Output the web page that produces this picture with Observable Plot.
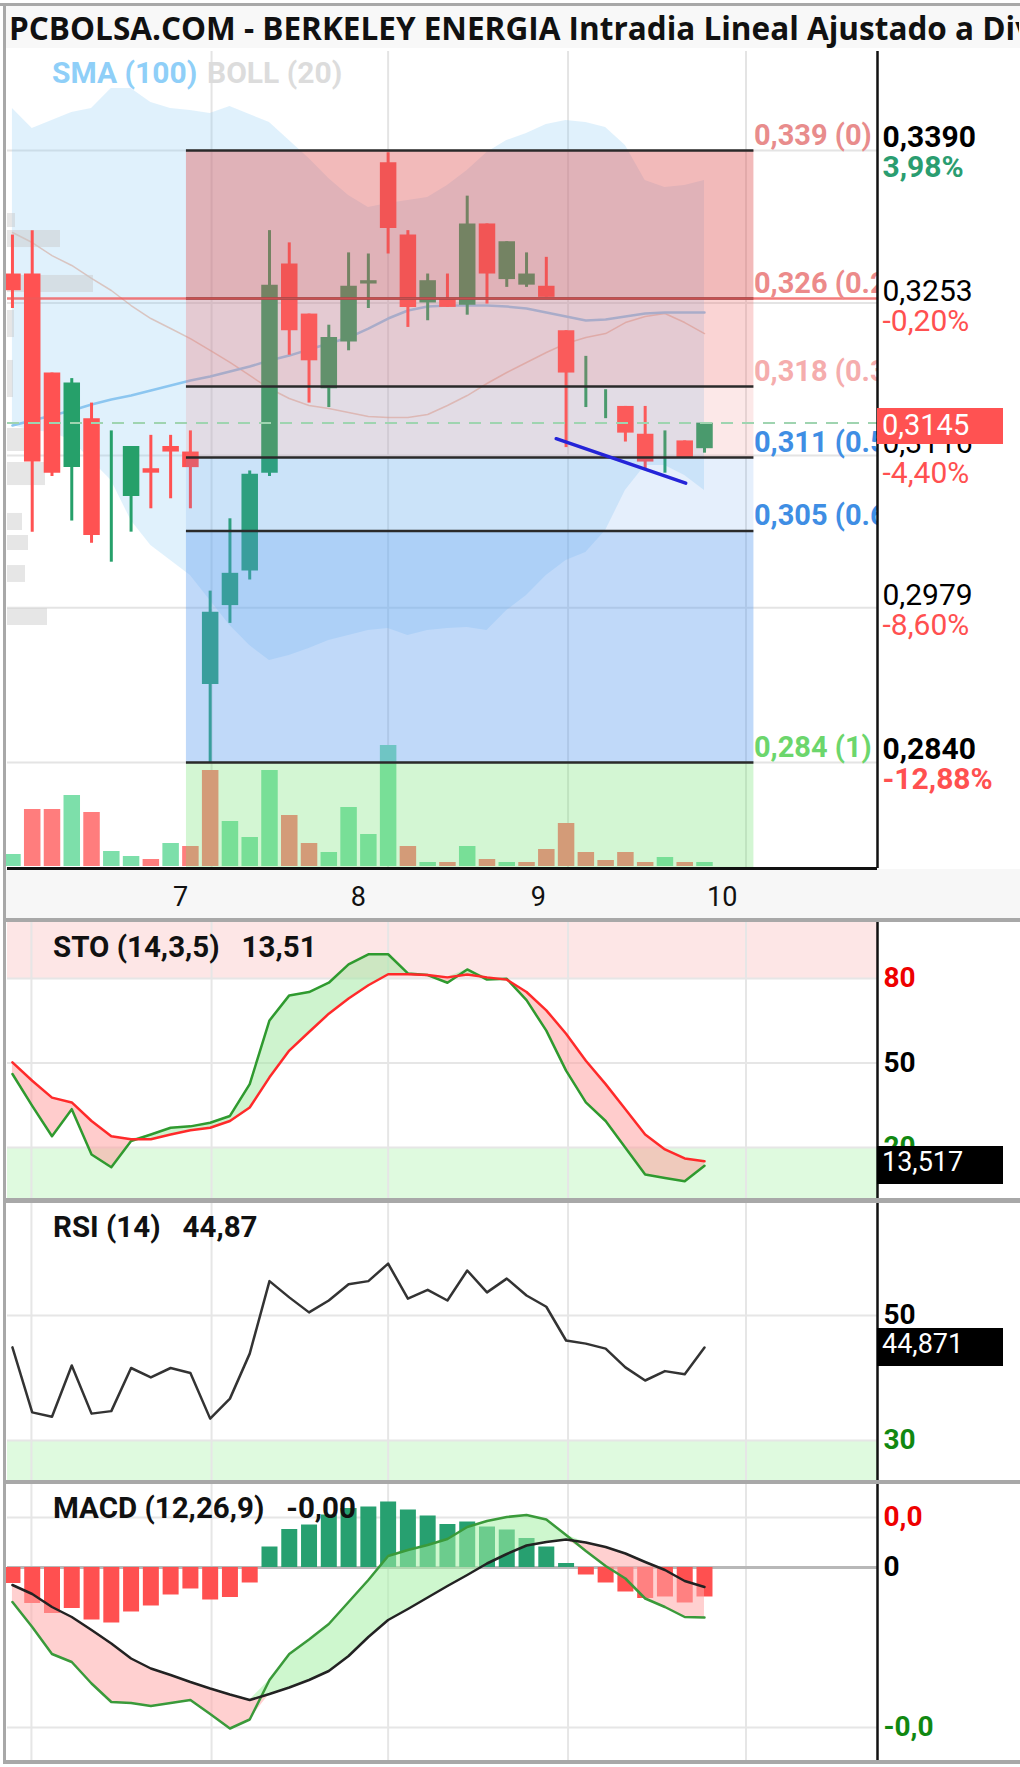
<!DOCTYPE html>
<html><head><meta charset="utf-8">
<script src="https://cdn.jsdelivr.net/npm/d3@7"></script>
<script src="https://cdn.jsdelivr.net/npm/@observablehq/plot@0.6"></script>
<style>
html,body{margin:0;padding:0;background:#fff;}
body{width:1020px;height:1767px;position:relative;overflow:hidden;font-family:Roboto,sans-serif;}
.abs{position:absolute;}
.ptitle{position:absolute;left:53px;font:bold 29.5px Roboto;line-height:28px;color:#111;white-space:pre;}
.vbox{position:absolute;left:877px;width:126px;height:38px;line-height:38px;color:#fff;font:27px Roboto;padding-left:5px;box-sizing:border-box;}
</style></head><body>
<script>
// ---------- DATA ----------
const opens  = [0.3279,0.3279,0.3190,0.3105,0.3149,0.3075,0.3079,0.3104,0.3124,0.3119,0.2910,0.2981,0.3012,0.3100,0.3288,0.3243,0.3176,0.3218,0.3270,0.3379,0.3314,0.3253,0.3257,0.3251,0.3324,0.3274,0.3269,0.3268,0.3228,0.3180,0.3160,0.3160,0.3135,0.3120,0.3129,0.3122];
const highs  = [0.3314,0.3318,0.3190,0.3185,0.3163,0.3138,0.3124,0.3134,0.3134,0.3138,0.2994,0.3059,0.3102,0.3318,0.3307,0.3243,0.3233,0.3298,0.3297,0.3388,0.3318,0.3279,0.3279,0.3349,0.3324,0.3308,0.3298,0.3294,0.3228,0.3205,0.3175,0.3160,0.3160,0.3138,0.3129,0.3145];
const lows   = [0.3248,0.3047,0.3097,0.3057,0.3037,0.3020,0.3047,0.3068,0.3077,0.3068,0.2840,0.2965,0.3004,0.3097,0.3206,0.3163,0.3159,0.3210,0.3248,0.3297,0.3231,0.3237,0.3249,0.3242,0.3252,0.3267,0.3267,0.3258,0.3123,0.3159,0.3149,0.3128,0.3104,0.3100,0.3114,0.3118];
const closes = [0.3264,0.3110,0.3100,0.3181,0.3044,0.3075,0.3124,0.3100,0.3119,0.3105,0.2975,0.3010,0.3099,0.3269,0.3228,0.3201,0.3222,0.3268,0.3273,0.3320,0.3249,0.3273,0.3249,0.3324,0.3279,0.3308,0.3279,0.3258,0.3190,0.3180,0.3160,0.3136,0.3110,0.3120,0.3114,0.3145];
const volumes = [12,57,57,71,54,15,10,7,23,20,96,45,29,96,51,23,14,59,32,121,20,4,4,20,7,4,4,17,43,14,6,14,4,9,4,4];
const volumeUp = [1,0,0,1,0,1,1,0,1,0,0,1,1,1,0,0,1,1,1,1,0,1,0,1,0,1,0,0,0,0,0,0,0,1,0,1];
const bollUpper = [0.34277,0.34098,0.34170,0.34242,0.34277,0.34457,0.34457,0.34331,0.34277,0.34260,0.34233,0.34295,0.34224,0.34152,0.33990,0.33828,0.33648,0.33496,0.33388,0.33424,0.33451,0.33478,0.33585,0.33720,0.33882,0.33990,0.34053,0.34134,0.34170,0.34152,0.34107,0.33945,0.33630,0.33567,0.33585,0.33630];
const bollLower = [0.31429,0.31384,0.31366,0.31294,0.31114,0.30934,0.30575,0.30350,0.30215,0.30081,0.29856,0.29631,0.29451,0.29317,0.29362,0.29425,0.29496,0.29541,0.29586,0.29604,0.29541,0.29586,0.29604,0.29613,0.29586,0.29766,0.29901,0.30081,0.30215,0.30287,0.30485,0.30844,0.31069,0.31069,0.30979,0.30844];
const bollMid = [0.33163,0.33073,0.32956,0.32867,0.32750,0.32642,0.32507,0.32390,0.32300,0.32210,0.32103,0.31995,0.31878,0.31761,0.31671,0.31608,0.31581,0.31545,0.31509,0.31500,0.31500,0.31527,0.31608,0.31698,0.31806,0.31905,0.31995,0.32085,0.32166,0.32219,0.32255,0.32354,0.32408,0.32435,0.32354,0.32255];
const sma100 = [0.31429,0.31474,0.31518,0.31563,0.31617,0.31662,0.31698,0.31743,0.31788,0.31833,0.31869,0.31914,0.31959,0.32013,0.32057,0.32112,0.32166,0.32219,0.32300,0.32390,0.32462,0.32498,0.32507,0.32507,0.32507,0.32498,0.32480,0.32444,0.32408,0.32372,0.32381,0.32408,0.32435,0.32444,0.32444,0.32444];
const vpHigh = [0.33334,0.33181,0.32777,0.32462,0.32013,0.31402,0.31096,0.30638,0.30440,0.30170,0.29784];
const vpLow  = [0.33208,0.33028,0.32624,0.32219,0.31680,0.31195,0.30889,0.30485,0.30305,0.30018,0.29631];
const vpSize = [8,53,86,7,6,22,38,15,21,18,40];
const fibLevels = [0.339,0.3257,0.3178,0.3114,0.3048,0.284];
const fibLabels = ["0,339 (0)","0,326 (0.236)","0,318 (0.382)","0,311 (0.5)","0,305 (0.618)","0,284 (1)"];
const fibStart = 8.8, fibEnd = 37.5;
const refPrice = 0.3257, lastPrice = 0.3145;
const trendX = [27.5, 34.05], trendY = [0.3131, 0.3091];
const gridPrices = [0.339,0.3253,0.3116,0.2979,0.284];
const axisPriceText = ["0,3390","0,3253","0,3116","0,2979","0,2840"];
const axisPctText = ["3,98%","-0,20%","-4,40%","-8,60%","-12,88%"];
const dayGrid = [0.96,10.07,19.0,28.1,37.1];
const xTickPos = [8.5,17.5,26.6,35.9];
const xTickLabels = ["7","8","9","10"];
const stoK = [46.1,34.8,24.0,33.6,17.5,13.0,22.3,24.6,27.0,27.5,28.8,31.2,42.5,65.1,74.0,75.2,78.5,85.0,88.6,88.6,81.8,81.2,78.5,83.2,79.6,79.9,72.3,61.5,47.3,36.0,29.4,19.9,10.4,9.2,8.0,13.517];
const stoD = [50.2,43.7,37.7,36.0,29.4,24.0,22.9,22.9,24.6,26.1,27.0,29.4,34.2,44.9,54.4,61.0,67.5,72.9,77.6,81.5,81.5,81.2,80.4,81.4,80.4,79.6,75.2,68.7,60.4,50.8,42.5,33.6,24.6,19.3,16.1,15.1];
const stoLevels = [80,50,20];
const rsi = [44.9,34.5,33.8,42.0,34.3,34.7,41.6,40.1,41.6,40.8,33.5,36.7,43.9,55.5,52.9,50.5,52.4,55.0,55.5,58.3,52.7,54.1,52.4,57.2,53.7,55.9,53.2,51.4,46.0,45.5,44.7,41.7,39.6,41.1,40.6,44.871];
const rsiLevels = [50,30];
const macd = [-0.00069,-0.00119,-0.00173,-0.00189,-0.00232,-0.00269,-0.00271,-0.00277,-0.00271,-0.00265,-0.00293,-0.00322,-0.00304,-0.00225,-0.00173,-0.00144,-0.00113,-0.00069,-0.00025,0.00023,0.00035,0.00045,0.00057,0.00081,0.00093,0.00101,0.00105,0.00096,0.00065,0.00033,0.00003,-0.00022,-0.00062,-0.00079,-0.00099,-0.00100];
const signal = [-0.00035,-0.00053,-0.00079,-0.00099,-0.00125,-0.00152,-0.00182,-0.00202,-0.00215,-0.00229,-0.00242,-0.00254,-0.00265,-0.00253,-0.00240,-0.00225,-0.00207,-0.00177,-0.00139,-0.00105,-0.00083,-0.00060,-0.00037,-0.00015,0.00008,0.00027,0.00044,0.00051,0.00056,0.00050,0.00041,0.00028,0.00011,-0.00005,-0.00027,-0.00039];
const hist = [-0.00032,-0.00072,-0.00092,-0.00082,-0.00105,-0.00111,-0.00089,-0.00077,-0.00055,-0.00043,-0.00065,-0.00060,-0.00031,0.00041,0.00076,0.00085,0.00105,0.00118,0.00121,0.00131,0.00115,0.00103,0.00086,0.00091,0.00081,0.00075,0.00058,0.00041,0.00008,-0.00015,-0.00031,-0.00049,-0.00062,-0.00059,-0.00071,-0.00059];
const macdLevels = [0.001, 0, -0.0032];
const macdLevelText = ["0,0","0","-0,0"];

// ---------- LAYOUT ----------
const xDomain = [-0.25, 43.75];
const priceDomain = [0.27447, 0.34790];
const idx = closes.map((_, i) => i);
const F = "Roboto";
const RED = "#ff5252", GREEN = "#26a06a";

function div(style, text, cls) {
  const d = document.createElement("div");
  d.className = cls || "abs"; d.style.cssText = style;
  if (text != null) d.textContent = text;
  document.body.appendChild(d); return d;
}
function addPlot(top, opts) {
  const el = Plot.plot({width: 1020, marginLeft: 7, marginRight: 143, ...opts, style: {background: "transparent"}});
  el.style.position = "absolute"; el.style.left = "0px"; el.style.top = top + "px";
  document.body.appendChild(el);
  return el;
}

// backgrounds
div("left:6px;top:6px;width:1014px;height:42px;background:#f8f8f8;");
div("left:6px;top:869px;width:1014px;height:50px;background:#f7f7f7;");

const mainOpts = {height: 920, marginTop: 51, marginBottom: 52,
  x: {domain: xDomain, axis: null}, y: {domain: priceDomain, axis: null}};

// layer A1: grid, bollinger, sma
addPlot(0, {...mainOpts, marks: [
  Plot.ruleY(gridPrices, {stroke: "#e4e4e4", strokeWidth: 2}),
  Plot.ruleX(dayGrid.slice(1), {stroke: "#e4e4e4", strokeWidth: 2}),
  Plot.areaY(idx, {x: i => i, y1: i => bollLower[i], y2: i => bollUpper[i], fill: "#8ccdf5", fillOpacity: 0.27}),
  Plot.line(idx, {x: i => i, y: i => bollMid[i], stroke: "#d4a090", strokeOpacity: 0.55, strokeWidth: 1.5}),
  Plot.line(idx, {x: i => i, y: i => sma100[i], stroke: "#8cc6f0", strokeWidth: 2.5})
]});
// layer D: volume profile
addPlot(0, {height: 920, marginTop: 51, marginBottom: 52,
  x: {domain: [0, 100], range: [7, 107], axis: null}, y: {domain: priceDomain, axis: null},
  marks: [Plot.rect(vpSize.map((_, i) => i), {x1: 0, x2: i => vpSize[i], y1: i => vpLow[i], y2: i => vpHigh[i], fill: "#c8c8c8", fillOpacity: 0.45})]});
// layer A2: candles
const cColor = i => closes[i] >= opens[i] ? GREEN : RED;
addPlot(0, {...mainOpts, marks: [
  Plot.ruleX(idx, {x: i => i, y1: i => lows[i], y2: i => highs[i], stroke: cColor, strokeWidth: 3}),
  Plot.ruleX(idx, {x: i => i, y1: i => opens[i], y2: i => closes[i], stroke: cColor, strokeWidth: 16.5})
]});
// layer B: volume
addPlot(0, {height: 920, marginTop: 51, marginBottom: 52,
  x: {domain: xDomain, axis: null}, y: {domain: [0, 121], range: [866, 745], axis: null},
  marks: [Plot.ruleX(idx, {x: i => i, y1: 0, y2: i => volumes[i], stroke: i => volumeUp[i] ? "#7ddfaa" : "#ff7d7d", strokeWidth: 16.5})]});
// layer C: fibonacci, lines, labels
const zoneFill = ["#e05a5a", "#f07070", "#f08080", "#5b9bec", "#5a9cf0", "#6ee06e"];
const zoneOpacity = [0.42, 0.3, 0.18, 0.16, 0.38, 0.3];
const zoneBounds = fibLevels.concat([priceDomain[0]]);
const fibColors = ["#e88c8c", "#ec8a8a", "#f5adad", "#3f8ee4", "#3f8ee4", "#6cd66c"];
const emph = [0, 4];
const main = addPlot(0, {...mainOpts, marks: [
  Plot.rect(zoneFill.map((_, k) => k), {x1: fibStart, x2: fibEnd, y1: k => zoneBounds[k], y2: k => zoneBounds[k + 1], fill: k => zoneFill[k], fillOpacity: k => zoneOpacity[k]}),
  Plot.ruleY(fibLevels, {x1: fibStart, x2: fibEnd, stroke: "#2a2a2a", strokeWidth: 2.5}),
  Plot.ruleY([refPrice], {stroke: "#f05a5a", strokeWidth: 2.5, strokeOpacity: 0.8}),
  Plot.ruleY([lastPrice], {stroke: "#9fd4b0", strokeWidth: 2, strokeDasharray: "12,9"}),
  Plot.line([0, 1], {x: i => trendX[i], y: i => trendY[i], stroke: "#2424d8", strokeWidth: 3.5}),
  Plot.text(fibLevels.map((_, k) => k), {x: fibEnd, y: k => fibLevels[k], text: k => fibLabels[k], fill: k => fibColors[k], dx: 0, dy: -15, textAnchor: "start", fontFamily: F, fontWeight: "bold", fontSize: 29, clip: true}),
  Plot.ruleX([xDomain[1]], {stroke: "#111", strokeWidth: 2.5}),
  Plot.ruleY([priceDomain[0]], {stroke: "#111", strokeWidth: 3}),
  Plot.text(xTickPos, {x: d => d, text: (d, i) => xTickLabels[i], frameAnchor: "bottom", dy: 37, fontFamily: F, fontSize: 27, fill: "#111"}),
  Plot.text(idx.slice(0, 5).filter(k => emph.includes(k)), {y: k => gridPrices[k], text: k => axisPriceText[k], frameAnchor: "right", dx: 5, dy: -13, textAnchor: "start", fontFamily: F, fontSize: 30, fontWeight: "bold", fill: "#000"}),
  Plot.text(idx.slice(0, 5).filter(k => !emph.includes(k)), {y: k => gridPrices[k], text: k => axisPriceText[k], frameAnchor: "right", dx: 5, dy: -12, textAnchor: "start", fontFamily: F, fontSize: 30, fill: "#000"}),
  Plot.text(idx.slice(0, 5).filter(k => emph.includes(k)), {y: k => gridPrices[k], text: k => axisPctText[k], frameAnchor: "right", dx: 5, dy: 17, textAnchor: "start", fontFamily: F, fontSize: 30, fontWeight: "bold", fill: k => k === 0 ? "#2a9d70" : "#ff5050"}),
  Plot.text(idx.slice(0, 5).filter(k => !emph.includes(k)), {y: k => gridPrices[k], text: k => axisPctText[k], frameAnchor: "right", dx: 5, dy: 18, textAnchor: "start", fontFamily: F, fontSize: 30, fill: "#ff5050"})
]});
const yMain = main.scale("y");
div(`left:877px;top:${Math.round(yMain.apply(lastPrice) - 15)}px;width:126px;height:36px;line-height:36px;background:#ff5252;color:#fff;font:29px Roboto;padding-left:5px;box-sizing:border-box;`, "0,3145");

// titles
div("left:9px;top:6px;width:1010px;height:42px;line-height:42px;font:bold 31.5px 'Open Sans';color:#111;white-space:nowrap;overflow:hidden;", "PCBOLSA.COM - BERKELEY ENERGIA Intradia Lineal Ajustado a Dividendos");
div("left:52px;top:58px;font:bold 30px Roboto;line-height:30px;white-space:pre;color:#8fcff8;", "SMA (100)");
div("left:207px;top:58px;font:bold 30px Roboto;line-height:30px;white-space:pre;color:#dcdcdc;", "BOLL (20)");

// ---------- STO ----------
const stoDomain = [1.89, 99.88];
const panel = (domain) => ({height: 276, marginTop: 0, marginBottom: 0, x: {domain: xDomain, axis: null}, y: {domain, axis: null}});
const vgrid = Plot.ruleX(dayGrid, {stroke: "#e6e6e6", strokeWidth: 2});
const axisLine = Plot.ruleX([xDomain[1]], {stroke: "#111", strokeWidth: 2.5});
const sto = addPlot(922, {...panel(stoDomain), marks: [
  Plot.rect([0], {x1: xDomain[0], x2: xDomain[1], y1: 80, y2: stoDomain[1], fill: "#fde6e6"}),
  Plot.rect([0], {x1: xDomain[0], x2: xDomain[1], y1: stoDomain[0], y2: 20, fill: "#dffadf"}),
  Plot.ruleY(stoLevels, {stroke: "#e6e6e6", strokeWidth: 2}),
  vgrid,
  Plot.areaY(idx, {x: i => i, y1: i => stoD[i], y2: i => Math.max(stoK[i], stoD[i]), fill: "#9ee89e", fillOpacity: 0.5}),
  Plot.areaY(idx, {x: i => i, y1: i => stoD[i], y2: i => Math.min(stoK[i], stoD[i]), fill: "#ff9a9a", fillOpacity: 0.5}),
  Plot.line(idx, {x: i => i, y: i => stoK[i], stroke: "#2f9a2f", strokeWidth: 2.5}),
  Plot.line(idx, {x: i => i, y: i => stoD[i], stroke: "#ff2a2a", strokeWidth: 2.5}),
  axisLine,
  Plot.text([0, 1, 2], {y: k => stoLevels[k], text: k => String(stoLevels[k]), fill: k => ["#ee0000", "#000", "#118811"][k], frameAnchor: "right", dx: 6, textAnchor: "start", fontFamily: F, fontSize: 28, fontWeight: "bold"})
]});
div("top:933px;", "STO (14,3,5)   13,51", "ptitle");
div(`top:${Math.round(922 + sto.scale("y").apply(stoK[35]) - 19)}px;background:#000;`, "13,517", "vbox");

// ---------- RSI ----------
const rsiDomain = [23.6, 67.92];
const rsiP = addPlot(1203, {...panel(rsiDomain), height: 277, marks: [
  Plot.rect([0], {x1: xDomain[0], x2: xDomain[1], y1: rsiDomain[0], y2: 30, fill: "#dffadf"}),
  Plot.ruleY(rsiLevels, {stroke: "#e6e6e6", strokeWidth: 2}),
  vgrid,
  Plot.line(idx, {x: i => i, y: i => rsi[i], stroke: "#333", strokeWidth: 2.5}),
  axisLine,
  Plot.text([0, 1], {y: k => rsiLevels[k], text: k => String(rsiLevels[k]), fill: k => ["#000", "#118811"][k], frameAnchor: "right", dx: 6, textAnchor: "start", fontFamily: F, fontSize: 28, fontWeight: "bold"})
]});
div("top:1213px;", "RSI (14)   44,87", "ptitle");
div(`top:${Math.round(1203 + rsiP.scale("y").apply(rsi[35]) - 19)}px;background:#000;`, "44,871", "vbox");

// ---------- MACD ----------
const macdDomain = [-0.00386, 0.00166];
addPlot(1484, {...panel(macdDomain), marks: [
  Plot.ruleY([macdLevels[0], macdLevels[2]], {stroke: "#e6e6e6", strokeWidth: 2}),
  vgrid,
  Plot.ruleY([0], {stroke: "#b8b8b8", strokeWidth: 3}),
  Plot.ruleX(idx, {x: i => i, y1: 0, y2: i => hist[i], stroke: i => hist[i] >= 0 ? "#27a070" : "#ff5050", strokeWidth: 16}),
  Plot.areaY(idx, {x: i => i, y1: i => signal[i], y2: i => Math.max(macd[i], signal[i]), fill: "#a6f0a6", fillOpacity: 0.55}),
  Plot.areaY(idx, {x: i => i, y1: i => signal[i], y2: i => Math.min(macd[i], signal[i]), fill: "#ffaaaa", fillOpacity: 0.55}),
  Plot.line(idx, {x: i => i, y: i => macd[i], stroke: "#3a9a3a", strokeWidth: 2.5}),
  Plot.line(idx, {x: i => i, y: i => signal[i], stroke: "#222", strokeWidth: 2.5}),
  axisLine,
  Plot.text([0, 1, 2], {y: k => macdLevels[k], text: k => macdLevelText[k], fill: k => ["#ee0000", "#000", "#118811"][k], frameAnchor: "right", dx: 6, textAnchor: "start", fontFamily: F, fontSize: 28, fontWeight: "bold"})
]});
div("top:1494px;", "MACD (12,26,9)   -0,00", "ptitle");

// frame borders / separators
div("left:0;top:3px;width:1020px;height:3px;background:#a8a8a8;");
div("left:3px;top:3px;width:3px;height:1761px;background:#a8a8a8;");
div("left:3px;top:918px;width:1017px;height:4px;background:#a8a8a8;");
div("left:3px;top:1198px;width:1017px;height:5px;background:#a8a8a8;");
div("left:3px;top:1480px;width:1017px;height:4px;background:#a8a8a8;");
div("left:3px;top:1760px;width:1017px;height:4px;background:#a8a8a8;");
</script>
</body></html>
